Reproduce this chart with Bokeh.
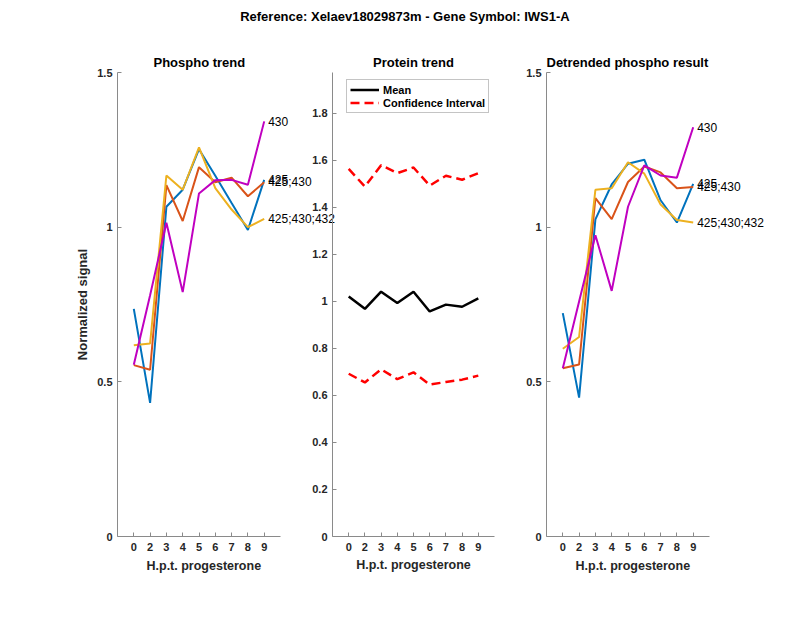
from bokeh.plotting import figure
from bokeh.layouts import row, column
from bokeh.models import (FixedTicker, LabelSet, ColumnDataSource, Legend,
                          LegendItem, Range1d, Title)
from bokeh.core.properties import value
from bokeh.embed import file_html
from bokeh.resources import INLINE

# ---------------- data ----------------
hours = ['0', '2', '3', '4', '5', '6', '7', '8', '9']
site_labels = ['425', '425;430', '425;430;432', '430']
site_colors = ['#0072BD', '#D95319', '#EDB120', '#C000C0']

phospho_425 = [0.736, 0.432, 1.066, 1.121, 1.252, 1.166, 1.078, 0.991, 1.153]
phospho_425_430 = [0.554, 0.539, 1.136, 1.020, 1.194, 1.145, 1.160, 1.100, 1.145]
phospho_425_430_432 = [0.618, 0.624, 1.167, 1.121, 1.258, 1.126, 1.057, 1.000, 1.027]
phospho_430 = [0.555, 0.780, 1.014, 0.790, 1.109, 1.152, 1.153, 1.137, 1.342]

detr_425 = [0.722, 0.449, 1.025, 1.138, 1.205, 1.218, 1.087, 1.015, 1.140]
detr_425_430 = [0.544, 0.556, 1.094, 1.026, 1.146, 1.196, 1.177, 1.126, 1.130]
detr_425_430_432 = [0.607, 0.645, 1.121, 1.126, 1.210, 1.173, 1.073, 1.023, 1.015]
detr_430 = [0.544, 0.760, 0.974, 0.794, 1.066, 1.200, 1.167, 1.160, 1.323]

protein_mean = [1.021, 0.968, 1.041, 0.993, 1.041, 0.957, 0.986, 0.977, 1.013]
ci_upper = [1.563, 1.488, 1.579, 1.545, 1.569, 1.492, 1.534, 1.517, 1.545]
ci_lower = [0.692, 0.655, 0.711, 0.669, 0.698, 0.646, 0.657, 0.667, 0.684]

phospho_ticks = [0, 0.5, 1, 1.5]
phospho_tick_labels = ['0', '0.5', '1', '1.5']
protein_ticks = [0, 0.2, 0.4, 0.6, 0.8, 1, 1.2, 1.4, 1.6, 1.8]
protein_tick_labels = ['0', '0.2', '0.4', '0.6', '0.8', '1', '1.2', '1.4', '1.6', '1.8']

xpos = list(range(1, len(hours) + 1))

FONT = "Liberation Sans"
TXT = "#262626"
AXC = "#8a8a8a"
PX_PER_UNIT = 16.3
XLABEL = "H.p.t. progesterone"


def make_panel(title, ymax, yticks, ylabels, frame_w, bl, br, xmax,
               title_offset=None, xlabel_offset=None, ylabel=None, margin=None):
    kw = {}
    if margin is not None:
        kw['margin'] = margin
    p = figure(frame_width=frame_w, frame_height=464,
               x_range=Range1d(0, xmax), y_range=Range1d(0, ymax),
               toolbar_location=None, output_backend="svg",
               min_border_left=bl, min_border_right=br,
               min_border_top=34, min_border_bottom=55, **kw)
    p.border_fill_alpha = 0
    p.background_fill_alpha = 0
    p.outline_line_color = None
    p.grid.visible = False
    p.title.text = title
    if title_offset is None:
        p.title.align = "center"
    else:
        p.title.align = "left"
        p.title.offset = title_offset
    p.title.text_font = FONT
    p.title.text_font_size = "13px"
    p.title.text_font_style = "bold"
    p.title.text_color = "#000000"
    p.title.standoff = 5

    for ax in (p.xaxis[0], p.yaxis[0]):
        ax.axis_line_color = AXC
        ax.major_tick_line_color = AXC
        ax.major_tick_in = 4
        ax.major_tick_out = 0
        ax.minor_tick_line_color = None
        ax.major_label_text_font = FONT
        ax.major_label_text_font_size = "11px"
        ax.major_label_text_font_style = "bold"
        ax.major_label_text_color = TXT
        ax.axis_label_text_font = FONT
        ax.axis_label_text_font_style = "bold"
        ax.axis_label_text_color = TXT

    p.xaxis.bounds = (0, 10)
    p.xaxis.ticker = FixedTicker(ticks=xpos)
    p.xaxis.major_label_overrides = {x: h for x, h in zip(xpos, hours)}
    p.xaxis.major_label_standoff = 6
    if xlabel_offset is None:
        p.xaxis.axis_label = XLABEL
        p.xaxis.axis_label_text_font_size = "12.5px"
        p.xaxis.axis_label_standoff = 4
    else:
        p.add_layout(Title(text=XLABEL, align="left", offset=xlabel_offset,
                           text_font=FONT, text_font_size="12.5px",
                           text_font_style="bold", text_color=TXT,
                           standoff=6), "below")

    p.yaxis.ticker = FixedTicker(ticks=yticks)
    p.yaxis.major_label_overrides = {t: l for t, l in zip(yticks, ylabels)}
    p.yaxis.major_label_standoff = 5
    if ylabel:
        p.yaxis.axis_label = ylabel
        p.yaxis.axis_label_text_font_size = "13px"
        p.yaxis.axis_label_standoff = 4
    return p


def add_series(p, series):
    for vals, col in zip(series, site_colors):
        p.line(xpos, vals, line_color=col, line_width=2)
    src = ColumnDataSource(dict(x=[xpos[-1]] * len(series),
                                y=[s[-1] for s in series],
                                text=site_labels))
    p.add_layout(LabelSet(x='x', y='y', text='text', source=src,
                          x_offset=4, text_baseline='middle',
                          text_font=value(FONT), text_font_size=value("12px"),
                          text_color="#000000"))


wide_w = 223
wide_xmax = wide_w / PX_PER_UNIT

# left panel
p1 = make_panel("Phospho trend", 1.5, phospho_ticks, phospho_tick_labels,
                wide_w, 117, 0, wide_xmax, title_offset=36, xlabel_offset=29,
                ylabel="Normalized signal")
add_series(p1, [phospho_425, phospho_425_430, phospho_425_430_432, phospho_430])

# middle panel
p2 = make_panel("Protein trend", 1.973, protein_ticks, protein_tick_labels,
                162, 32, 16, 10, margin=(0, 0, 0, -40))
r_mean = p2.line(xpos, protein_mean, line_color="black", line_width=2.5)
r_up = p2.line(xpos, ci_upper, line_color="#FF0000", line_width=2.5, line_dash="9 5")
r_lo = p2.line(xpos, ci_lower, line_color="#FF0000", line_width=2.5, line_dash="9 5")
legend = Legend(items=[LegendItem(label="Mean", renderers=[r_mean]),
                       LegendItem(label="Confidence Interval", renderers=[r_up])],
                location=(14, 423), glyph_width=29, glyph_height=13,
                label_height=13, label_standoff=4, spacing=0, padding=3,
                margin=0, border_line_color=AXC, background_fill_color="white",
                label_text_font=FONT, label_text_font_size="11px",
                label_text_font_style="bold", label_text_color="#000000")
p2.add_layout(legend)

# right panel
p3 = make_panel("Detrended phospho result", 1.5, phospho_ticks, phospho_tick_labels,
                wide_w, 36, 5, wide_xmax, title_offset=0, xlabel_offset=29)
add_series(p3, [detr_425, detr_425_430, detr_425_430_432, detr_430])

# overall title
pt = figure(width=784, height=38, toolbar_location=None, output_backend="svg",
            x_range=Range1d(0, 1), y_range=Range1d(0, 1),
            min_border_left=32, min_border_right=0, min_border_top=23,
            min_border_bottom=0)
pt.axis.visible = False
pt.grid.visible = False
pt.outline_line_color = None
pt.title.text = "Reference:  Xelaev18029873m - Gene Symbol:  IWS1-A"
pt.title.align = "center"
pt.title.text_font = FONT
pt.title.text_font_size = "13px"
pt.title.text_font_style = "bold"
pt.title.text_color = "#000000"
pt.title.standoff = 0

layout = column(pt, row(p1, p2, p3))
open("out.html", "w").write(file_html(layout, INLINE))
